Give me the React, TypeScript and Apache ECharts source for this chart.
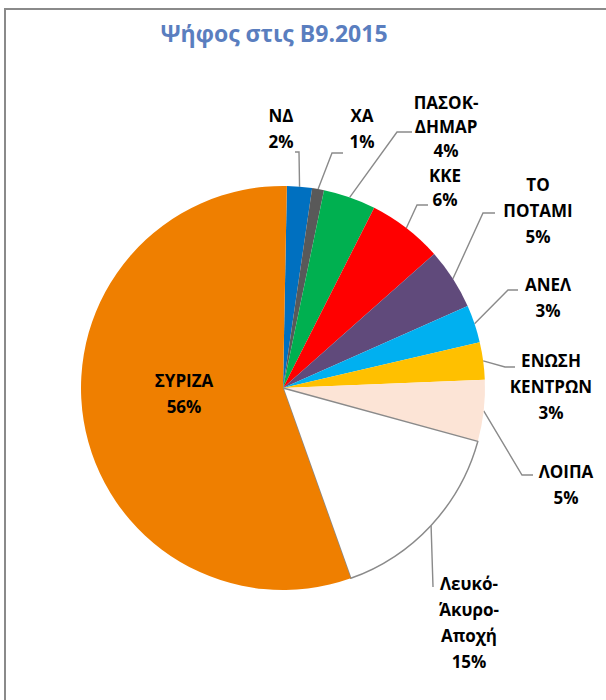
import React, { useEffect, useRef } from 'react';
import * as echarts from 'echarts';

// ---- data ----
const titleText = 'Ψήφος στις Β9.2015';
const categories = [
  'ΝΔ',
  'ΧΑ',
  'ΠΑΣΟΚ-\nΔΗΜΑΡ',
  'ΚΚΕ',
  'ΤΟ\nΠΟΤΑΜΙ',
  'ΑΝΕΛ',
  'ΕΝΩΣΗ\nΚΕΝΤΡΩΝ',
  'ΛΟΙΠΑ',
  'Λευκό-\nΆκυρο-\nΑποχή',
  'ΣΥΡΙΖΑ',
];
const shares = [2.0, 0.95, 4.2, 6.0, 4.9, 3.0, 3.0, 4.9, 15.3, 55.75];
const colors = [
  '#0070C0',
  '#595959',
  '#00B050',
  '#FF0000',
  '#604A7B',
  '#00B0F0',
  '#FFC000',
  '#FCE4D6',
  '#FFFFFF',
  '#EF7F00',
];

// ---- layout (positions / styles) ----
const CENTER: [number, number] = [283, 388];
const RADIUS = 202;
const START_ANGLE = 88.9;
const LABEL_POS: [number, number][] = [
  [281, 128],
  [362, 128],
  [446, 126],
  [445, 187],
  [538, 210],
  [548, 297],
  [551, 386],
  [566, 484],
  [469, 622],
  [184, 393],
];
const LABEL_LINE_HEIGHT = [26, 26, 24, 24, 26, 26, 26, 26, 26, 26];
const LEADER: ([number, number][] | null)[] = [
  [[299, 152], [295, 152]],
  [[332, 153], [343, 153]],
  [[397, 132], [412, 132]],
  [[417, 205], [428, 205]],
  [[483, 213], [495, 213]],
  [[508, 290], [518, 290]],
  [[505, 367], [515, 367]],
  [[522, 475], [533, 475]],
  [[433, 587], [433, 587]],
  null,
];

const FONT = '"Open Sans", "Noto Sans", sans-serif';

function edgePoint(i: number): [number, number] {
  const total = shares.reduce((a, b) => a + b, 0);
  let cum = 0;
  for (let k = 0; k < i; k++) cum += shares[k];
  const theta = ((90 - START_ANGLE) + ((cum + shares[i] / 2) / total) * 360) * Math.PI / 180;
  return [CENTER[0] + RADIUS * Math.sin(theta), CENTER[1] - RADIUS * Math.cos(theta)];
}

export default function App() {
  const ref = useRef<HTMLDivElement>(null);
  useEffect(() => {
    if (!ref.current) return;
    const chart = echarts.init(ref.current, null, { renderer: 'svg' });
    const data = categories.map((name, i) => {
      const inside = LEADER[i] === null;
      return {
        name,
        value: shares[i],
        itemStyle: {
          color: colors[i],
          borderColor: colors[i] === '#FFFFFF' ? '#8a8a8a' : 'rgba(0,0,0,0)',
          borderWidth: colors[i] === '#FFFFFF' ? 1.5 : 0,
        },
        label: {
          position: inside ? 'inside' : 'outside',
          lineHeight: LABEL_LINE_HEIGHT[i],
        },
        labelLine: { show: !inside },
      };
    });
    chart.setOption({
      animation: false,
      backgroundColor: '#ffffff',
      title: {
        text: titleText,
        left: 269,
        top: 16,
        textAlign: 'center',
        textStyle: {
          fontFamily: FONT,
          fontWeight: 'bold',
          fontSize: 23,
          color: '#5A7EBF',
        },
      },
      graphic: [
        {
          type: 'rect',
          shape: { x: 5, y: 9, width: 720, height: 820 },
          style: { fill: 'none', stroke: '#8a8a8a', lineWidth: 2 },
          silent: true,
        },
      ],
      series: [
        {
          type: 'pie',
          center: CENTER,
          radius: RADIUS,
          startAngle: START_ANGLE,
          clockwise: true,
          avoidLabelOverlap: false,
          data,
          label: {
            show: true,
            formatter: (p: any) => `${p.name}\n${Math.round(p.percent)}%`,
            fontFamily: FONT,
            fontWeight: 'bold',
            fontSize: 17,
            lineHeight: 26,
            color: '#000000',
            width: 150,
            overflow: 'none',
            align: 'center',
          },
          labelLine: {
            show: true,
            lineStyle: { color: '#8a8a8a', width: 1.4 },
          },
          labelLayout: (params: any) => {
            const i = params.dataIndex;
            const pos = LABEL_POS[i];
            const res: any = {
              x: pos[0],
              y: pos[1],
              align: 'center',
              verticalAlign: 'middle',
            };
            const leader = LEADER[i];
            if (leader) {
              res.labelLinePoints = [edgePoint(i), leader[0], leader[1]];
            }
            return res;
          },
          emphasis: { disabled: true },
        },
      ],
    });
    return () => chart.dispose();
  }, []);
  return (
    <div
      ref={ref}
      style={{ position: 'absolute', left: 0, top: 0, width: 606, height: 700 }}
    />
  );
}
